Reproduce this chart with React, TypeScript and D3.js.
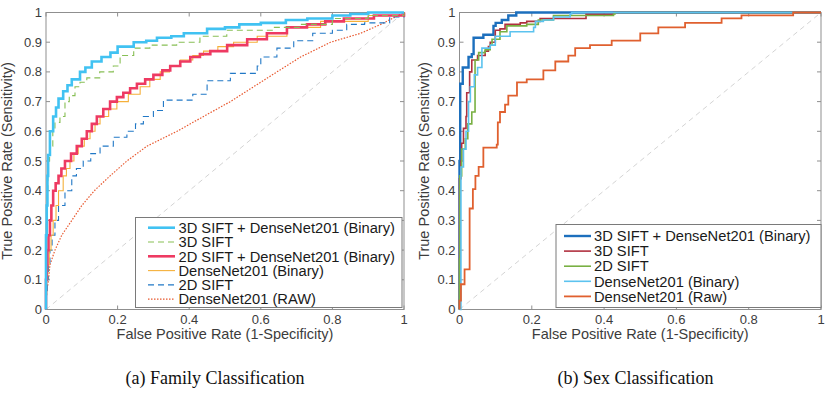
import React, { useEffect, useRef } from "react"
import * as d3 from "d3"

type Pt = [number, number]

// ---- (a) family classification ----
const famCyan: Pt[] = [[0,0],[0,0.25],[0.002,0.35],[0.004,0.45],[0.006,0.52],[0.011,0.6],[0.02,0.65],[0.028,0.68],[0.035,0.71],[0.048,0.735],[0.06,0.755],[0.072,0.775],[0.095,0.8],[0.11,0.815],[0.128,0.835],[0.155,0.85],[0.18,0.865],[0.2,0.885],[0.245,0.9],[0.28,0.905],[0.31,0.915],[0.35,0.92],[0.385,0.93],[0.45,0.945],[0.5,0.95],[0.54,0.96],[0.6,0.965],[0.67,0.975],[0.73,0.98],[0.8,0.99],[0.85,0.995],[0.9,1],[1,1]]
const famGreen: Pt[] = [[0,0],[0,0.2],[0.001,0.3],[0.003,0.4],[0.005,0.5],[0.01,0.55],[0.019,0.6],[0.025,0.63],[0.039,0.65],[0.053,0.7],[0.065,0.72],[0.081,0.75],[0.095,0.765],[0.114,0.78],[0.15,0.8],[0.188,0.82],[0.207,0.855],[0.245,0.88],[0.29,0.89],[0.365,0.9],[0.43,0.92],[0.505,0.94],[0.636,0.95],[0.71,0.96],[0.8,0.98],[0.9,0.99],[1,1]]
const famPink: Pt[] = [[0,0],[0,0.1],[0.002,0.15],[0.004,0.2],[0.007,0.25],[0.011,0.3],[0.015,0.35],[0.02,0.4],[0.027,0.425],[0.035,0.45],[0.043,0.475],[0.053,0.5],[0.07,0.525],[0.086,0.55],[0.1,0.575],[0.114,0.6],[0.128,0.625],[0.142,0.65],[0.16,0.675],[0.179,0.7],[0.198,0.715],[0.216,0.73],[0.235,0.745],[0.254,0.76],[0.277,0.775],[0.3,0.79],[0.325,0.805],[0.347,0.82],[0.375,0.835],[0.403,0.85],[0.43,0.86],[0.459,0.87],[0.506,0.89],[0.562,0.91],[0.617,0.93],[0.673,0.95],[0.729,0.96],[0.78,0.97],[0.832,0.98],[0.916,0.99],[1,1]]
const famOrange: Pt[] = [[0,0],[0,0.05],[0.002,0.1],[0.005,0.15],[0.009,0.2],[0.014,0.25],[0.02,0.3],[0.028,0.35],[0.035,0.4],[0.048,0.45],[0.057,0.475],[0.067,0.5],[0.078,0.525],[0.09,0.55],[0.107,0.575],[0.123,0.6],[0.137,0.625],[0.151,0.65],[0.175,0.675],[0.198,0.7],[0.23,0.725],[0.263,0.75],[0.29,0.775],[0.319,0.8],[0.345,0.82],[0.375,0.84],[0.41,0.855],[0.44,0.87],[0.48,0.885],[0.524,0.9],[0.59,0.92],[0.673,0.95],[0.767,0.97],[0.9,0.99],[1,1]]
const famBlue: Pt[] = [[0,0],[0,0.05],[0.004,0.1],[0.007,0.15],[0.011,0.2],[0.017,0.25],[0.025,0.3],[0.035,0.35],[0.053,0.4],[0.072,0.45],[0.085,0.475],[0.104,0.5],[0.125,0.525],[0.151,0.55],[0.188,0.58],[0.226,0.6],[0.25,0.625],[0.272,0.65],[0.3,0.67],[0.328,0.705],[0.41,0.725],[0.45,0.77],[0.515,0.795],[0.59,0.82],[0.6,0.85],[0.645,0.88],[0.692,0.905],[0.745,0.93],[0.8,0.94],[0.84,0.96],[0.89,0.965],[0.96,0.985],[1,1]]
const famRaw: Pt[] = [[0,0],[0.001,0.05],[0.007,0.1],[0.011,0.15],[0.025,0.2],[0.044,0.25],[0.072,0.3],[0.1,0.35],[0.135,0.4],[0.179,0.45],[0.226,0.5],[0.282,0.55],[0.366,0.6],[0.44,0.65],[0.515,0.7],[0.58,0.75],[0.645,0.8],[0.711,0.85],[0.795,0.9],[0.879,0.93],[0.935,0.96],[1,1]]

// ---- (b) sex classification ----
const sexBlue: Pt[] = [[0,0],[0,0.5],[0.002,0.76],[0.009,0.815],[0.025,0.85],[0.034,0.86],[0.039,0.915],[0.066,0.925],[0.094,0.955],[0.1,0.965],[0.117,0.975],[0.135,0.99],[0.157,1],[1,1]]
const sexRed: Pt[] = [[0,0],[0,0.44],[0.004,0.5],[0.006,0.56],[0.011,0.61],[0.018,0.65],[0.02,0.73],[0.028,0.8],[0.034,0.84],[0.05,0.855],[0.071,0.87],[0.08,0.885],[0.085,0.9],[0.099,0.94],[0.112,0.945],[0.126,0.96],[0.168,0.965],[0.186,0.97],[0.223,0.98],[0.35,0.994],[0.426,1],[1,1]]
const sexGreen: Pt[] = [[0,0],[0,0.17],[0.001,0.45],[0.006,0.54],[0.016,0.575],[0.023,0.625],[0.034,0.665],[0.043,0.84],[0.053,0.865],[0.071,0.875],[0.085,0.89],[0.09,0.91],[0.112,0.935],[0.131,0.955],[0.186,0.96],[0.218,0.975],[0.26,0.99],[0.426,0.995],[0.43,1],[1,1]]
const sexLight: Pt[] = [[0,0],[0.004,0.03],[0.004,0.48],[0.011,0.54],[0.018,0.6],[0.025,0.7],[0.03,0.75],[0.041,0.79],[0.05,0.815],[0.062,0.88],[0.085,0.89],[0.099,0.92],[0.14,0.935],[0.205,0.95],[0.21,0.97],[0.232,0.975],[0.26,0.985],[0.306,0.995],[0.31,1],[1,1]]
const sexRaw: Pt[] = [[0,0],[0,0.03],[0.004,0.085],[0.014,0.135],[0.028,0.34],[0.037,0.405],[0.044,0.45],[0.053,0.48],[0.066,0.545],[0.103,0.555],[0.106,0.63],[0.112,0.665],[0.126,0.69],[0.135,0.72],[0.159,0.765],[0.186,0.775],[0.232,0.805],[0.265,0.835],[0.301,0.855],[0.32,0.88],[0.361,0.89],[0.421,0.905],[0.5,0.93],[0.55,0.95],[0.624,0.965],[0.725,0.98],[0.78,0.99],[0.923,1],[1,1]]

const xTicks = [0, 0.2, 0.4, 0.6, 0.8, 1]
const yTicks = [0, 0.1, 0.2, 0.3, 0.4, 0.5, 0.6, 0.7, 0.8, 0.9, 1]

interface Series { name: string; data: Pt[]; color: string; width: number; dash?: string; step: boolean }

const famSeries: Series[] = [
  { name: "3D SIFT + DenseNet201 (Binary)", data: famCyan, color: "#41c2f2", width: 2.6, step: true },
  { name: "3D SIFT", data: famGreen, color: "#88bf55", width: 1.1, dash: "6,4", step: true },
  { name: "2D SIFT + DenseNet201 (Binary)", data: famPink, color: "#ee3a62", width: 2.6, step: true },
  { name: "DenseNet201 (Binary)", data: famOrange, color: "#f5b03a", width: 1.1, step: true },
  { name: "2D SIFT", data: famBlue, color: "#2178c6", width: 1.1, dash: "6,4", step: true },
  { name: "DenseNet201 (RAW)", data: famRaw, color: "#e8582e", width: 1.2, dash: "1.5,1.5", step: false },
]
const sexSeries: Series[] = [
  { name: "3D SIFT + DenseNet201 (Binary)", data: sexBlue, color: "#1c6fbd", width: 2.4, step: true },
  { name: "3D SIFT", data: sexRed, color: "#b0303f", width: 1.6, step: true },
  { name: "2D SIFT", data: sexGreen, color: "#79b043", width: 1.6, step: true },
  { name: "DenseNet201 (Binary)", data: sexLight, color: "#5cc3ef", width: 1.6, step: true },
  { name: "DenseNet201 (Raw)", data: sexRaw, color: "#e0602f", width: 1.8, step: true },
]

const SANS = "'Liberation Sans', Arial, sans-serif"

function drawPanel(svg: d3.Selection<SVGSVGElement, unknown, null, undefined>, o: {
  left: number; right: number; top: number; bottom: number; series: Series[]; drawOrder: number[];
  legend: { x0: number; x1: number; y0: number; y1: number; row0: number; step: number; lineX0: number; lineX1: number; textX: number };
  yLabelX: number; caption: string; captionX: number
}) {
  const x = d3.scaleLinear().domain([0, 1]).range([o.left, o.right])
  const y = d3.scaleLinear().domain([0, 1]).range([o.bottom, o.top])
  const g = svg.append("g")
  const axisCol = "#8f8f8f"
  const labelCol = "#3c3c3c"

  // diagonal
  g.append("line").attr("x1", x(0)).attr("y1", y(0)).attr("x2", x(1)).attr("y2", y(1))
    .attr("stroke", "#d4d4d4").attr("stroke-width", 1).attr("stroke-dasharray", "5,4")

  // box + ticks
  g.append("rect").attr("x", o.left).attr("y", o.top).attr("width", o.right - o.left).attr("height", o.bottom - o.top)
    .attr("fill", "none").attr("stroke", axisCol).attr("stroke-width", 1)
  xTicks.forEach(t => {
    g.append("line").attr("x1", x(t)).attr("x2", x(t)).attr("y1", o.bottom).attr("y2", o.bottom - 4).attr("stroke", axisCol)
    g.append("line").attr("x1", x(t)).attr("x2", x(t)).attr("y1", o.top).attr("y2", o.top + 4).attr("stroke", axisCol)
    g.append("text").attr("x", x(t)).attr("y", o.bottom + 14.5).attr("text-anchor", "middle")
      .attr("font-family", SANS).attr("font-size", 13).attr("fill", labelCol).text(d3.format("~g")(t))
  })
  yTicks.forEach(t => {
    g.append("line").attr("y1", y(t)).attr("y2", y(t)).attr("x1", o.left).attr("x2", o.left + 4).attr("stroke", axisCol)
    g.append("line").attr("y1", y(t)).attr("y2", y(t)).attr("x1", o.right).attr("x2", o.right - 4).attr("stroke", axisCol)
    g.append("text").attr("x", o.left - 4).attr("y", y(t) + 4.5).attr("text-anchor", "end")
      .attr("font-family", SANS).attr("font-size", 13).attr("fill", labelCol).text(d3.format("~g")(t))
  })

  // curves
  o.drawOrder.forEach(i => {
    const s = o.series[i]
    const line = d3.line<Pt>().x(d => x(d[0])).y(d => y(d[1])).curve(s.step ? d3.curveStepAfter : d3.curveLinear)
    g.append("path").attr("d", line(s.data)).attr("fill", "none").attr("stroke", s.color)
      .attr("stroke-width", s.width).attr("stroke-dasharray", s.dash ?? null)
  })

  // labels
  g.append("text").attr("x", (o.left + o.right) / 2).attr("y", o.bottom + 29.5).attr("text-anchor", "middle")
    .attr("font-family", SANS).attr("font-size", 14.5).attr("fill", labelCol).text("False Positive Rate (1-Specificity)")
  g.append("text").attr("transform", `translate(${o.yLabelX},${(o.top + o.bottom) / 2}) rotate(-90)`).attr("text-anchor", "middle")
    .attr("font-family", SANS).attr("font-size", 14.5).attr("fill", labelCol).text("True Positive Rate (Sensitivity)")

  // legend
  const L = o.legend
  g.append("rect").attr("x", L.x0).attr("y", L.y0).attr("width", L.x1 - L.x0).attr("height", L.y1 - L.y0)
    .attr("fill", "white").attr("stroke", "#7a7a7a").attr("stroke-width", 1)
  o.series.forEach((s, i) => {
    const cy = L.row0 + i * L.step
    g.append("line").attr("x1", L.lineX0).attr("x2", L.lineX1).attr("y1", cy).attr("y2", cy)
      .attr("stroke", s.color).attr("stroke-width", s.width).attr("stroke-dasharray", s.dash ?? null)
    g.append("text").attr("x", L.textX).attr("y", cy + 5.2).attr("font-family", SANS).attr("font-size", 14.7)
      .attr("fill", "#1a1a1a").text(s.name)
  })

  // caption
  g.append("text").attr("x", o.captionX).attr("y", 384).attr("text-anchor", "middle")
    .attr("font-family", "'Liberation Serif', 'Times New Roman', serif").attr("font-size", 18).attr("fill", "#111").text(o.caption)
}

export default function App() {
  const ref = useRef<SVGSVGElement>(null)
  useEffect(() => {
    const svg = d3.select(ref.current!)
    svg.selectAll("*").remove()
    drawPanel(svg, {
      left: 46, right: 404, top: 12.5, bottom: 309.5, series: famSeries, drawOrder: [5, 4, 3, 2, 1, 0],
      legend: { x0: 135.5, x1: 402, y0: 217.5, y1: 307.5, row0: 227.7, step: 14.3, lineX0: 148, lineX1: 175, textX: 178.5 },
      yLabelX: 12, caption: "(a) Family Classification", captionX: 215,
    })
    drawPanel(svg, {
      left: 459.5, right: 821, top: 12.5, bottom: 309.5, series: sexSeries, drawOrder: [0, 1, 2, 3, 4],
      legend: { x0: 556, x1: 821, y0: 224.5, y1: 307.5, row0: 236, step: 15.1, lineX0: 564, lineX1: 591, textX: 594 },
      yLabelX: 429, caption: "(b) Sex Classification", captionX: 635.5,
    })
  }, [])
  return (
    <svg ref={ref} width={831} height={395} style={{ position: "absolute", left: 0, top: 0, background: "white" }} />
  )
}
